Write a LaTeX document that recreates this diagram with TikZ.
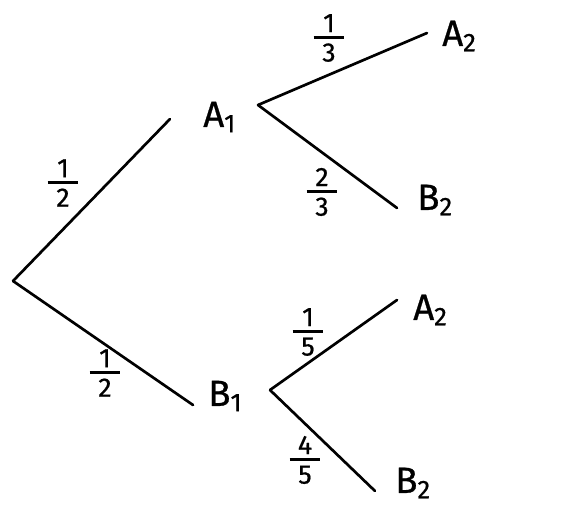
\documentclass[tikz,border=0pt]{standalone}
\usepackage{fontspec}
\setmainfont{Fira Sans}
\newfontfamily\handfont{Fira Sans}[FakeBold=0.7]
\usetikzlibrary{calc}

\begin{document}
\begin{tikzpicture}[
    x=0.025cm, y=-0.025cm,
    % Node styles
    event/.style={
        inner sep=0pt, anchor=west,
        font=\handfont\fontsize{26}{30}\selectfont
    },
    prob/.style={
        inner sep=0pt, align=center,
        font=\handfont\fontsize{19}{21}\selectfont
    },
    branch/.style={line width=1.9pt, black, line cap=round}
]

\useasboundingbox (0,0) rectangle (581,507);

% ============================================================
% Outcomes
% ============================================================

\coordinate (root) at (13,281);

% -- First draw --
\node[event] (A1) at (203,117) {A\textsubscript{1}};
\node[event] (B1) at (208,396) {B\textsubscript{1}};

% -- Second draw after A1 --
\node[event] (A1A2) at (442,36) {A\textsubscript{2}};
\node[event] (A1B2) at (417,200) {B\textsubscript{2}};

% -- Second draw after B1 --
\node[event] (B1A2) at (413,310) {A\textsubscript{2}};
\node[event] (B1B2) at (395,483) {B\textsubscript{2}};

% ============================================================
% Branches
% ============================================================

\draw[branch] (root) -- ($(A1.west)+(-33,2)$);
\draw[branch] (root) -- ($(B1.west)+(-15,9)$);

\draw[branch] ($(A1.west)+(55,-12)$) -- ($(A1A2.west)+(-15,-3)$);
\draw[branch] ($(A1.west)+(55,-12)$) -- ($(A1B2.west)+(-20,8)$);

\draw[branch] ($(B1.west)+(62,-6)$) -- ($(B1A2.west)+(-16,-10)$);
\draw[branch] ($(B1.west)+(62,-6)$) -- ($(B1B2.west)+(-20,8)$);

% ============================================================
% Probabilities
% ============================================================

\node[prob] (pA1) at (63,183) {1\\[-16pt]\rule{22pt}{2pt}\\[-5pt]2};
\node[prob] (pB1) at (105,373) {1\\[-16pt]\rule{22pt}{2pt}\\[-5pt]2};
\node[prob] (pA1A2) at (329,38) {1\\[-16pt]\rule{22pt}{2pt}\\[-5pt]3};
\node[prob] (pA1B2) at (322,192) {2\\[-16pt]\rule{22pt}{2pt}\\[-5pt]3};
\node[prob] (pB1A2) at (308,332) {1\\[-16pt]\rule{22pt}{2pt}\\[-5pt]5};
\node[prob] (pB1B2) at (305,460) {4\\[-16pt]\rule{22pt}{2pt}\\[-5pt]5};

\end{tikzpicture}
\end{document}
